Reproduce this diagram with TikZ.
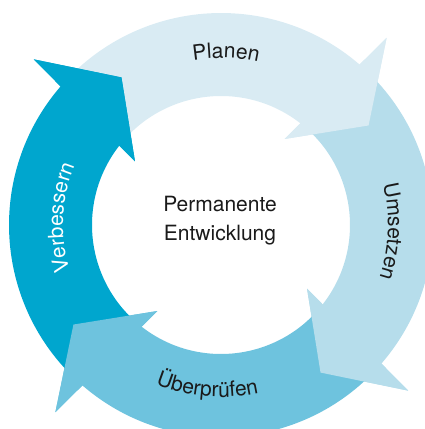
\documentclass[tikz,border=0pt]{standalone}
\usepackage{fontspec}
\setmainfont{TeX Gyre Heros}
\usetikzlibrary{decorations.text}

\definecolor{planen}{HTML}{D9EBF3}
\definecolor{umsetzen}{HTML}{B6DDEB}
\definecolor{pruefen}{HTML}{6EC3DE}
\definecolor{verbessern}{HTML}{00A6CE}
\definecolor{schrift}{HTML}{1A1A1A}

\def\ri{129}
\def\ro{212}
\def\arcfont{\fontsize{21}{25}\selectfont}

\begin{document}
\begin{tikzpicture}[x=1pt,y=1pt]
		\tikzset{
			arctext/.style 2 args={decorate,
				decoration={text along path, text align=center,
					text={|\arcfont\color{#1}|#2}}},
			centertext/.style={align=center, inner sep=0pt, text=schrift,
				font=\fontsize{21}{28.3}\selectfont},
		}
		\useasboundingbox (-221,-204) rectangle (204,225);
		\clip (-221,-204) rectangle (204,225);

		% ring pieces with their heads: head angle / tail angle / colour
		% (tail starts a little inside the previous head)
		\foreach \h/\t/\c in {51/141/planen, -39/51/umsetzen,
			-129/-39/pruefen, 141/231/verbessern}{
			\fill[\c] (\t-0.5:\ri) -- (\t-3.3:\ro)
			arc[start angle=\t-3.3, end angle=\h-1.8, radius=\ro]
			-- (\h+1:\ri)
			arc[start angle=\h+1, end angle=\t-0.5, radius=\ri] -- cycle
			(\h+2.5:107) -- (\h-2.5:250) -- (\h-17:178) -- cycle;
		}
		% heads once more on top, so each one covers the next tail
		\foreach \h/\c in {51/planen, -39/umsetzen, -129/pruefen, 141/verbessern}{
			\fill[\c] (\h+2.5:107) -- (\h-2.5:250) -- (\h-17:178) -- cycle;
		}

		\path[arctext={schrift}{Planen}] (128.3:167)
		arc[start angle=128.3, end angle=48.3, radius=167];
		\path[arctext={schrift}{Umsetzen}] (37.8:167)
		arc[start angle=37.8, end angle=-42.2, radius=167];
		\path[arctext={schrift}{Überprüfen}] (-134.8:172)
		arc[start angle=-134.8, end angle=-54.8, radius=172];
		\path[arctext={white}{Verbessern}] (217.3:158)
		arc[start angle=217.3, end angle=137.3, radius=158];

		\node[centertext] (entw) at (-1,4.5) {Permanente\\Entwicklung};
\end{tikzpicture}
\end{document}
